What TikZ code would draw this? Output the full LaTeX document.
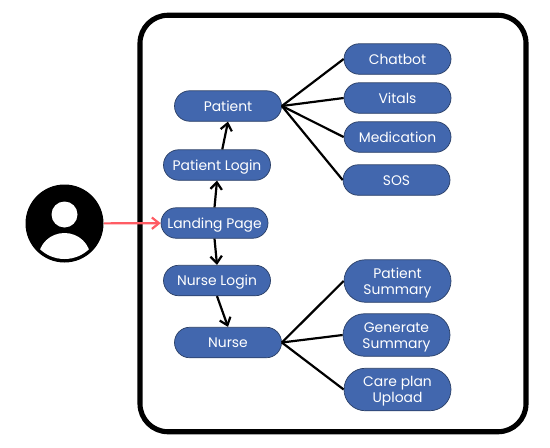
\documentclass[tikz,border=0pt]{standalone}
\usepackage{fontspec}
\setmainfont{Poppins}
\usepackage{xcolor}
\usetikzlibrary{arrows.meta, shapes.misc, shapes.geometric}
\definecolor{boxblue}{HTML}{4267AE}
\definecolor{boxedge}{HTML}{2A3F66}
\definecolor{arrowred}{HTML}{FF5C64}

\begin{document}
\begin{tikzpicture}[
    box/.style={draw=boxedge, line width=0.4pt, rounded rectangle, fill=boxblue,
                minimum width=2.14cm, minimum height=0.61cm, inner sep=0pt,
                text height=7.6pt, text depth=1.8pt,
                align=center, text=white, font=\fontsize{7.9}{9.2}\selectfont},
    tallbox/.style={box, minimum height=0.85cm, text height=16.8pt, text depth=1.8pt},
    arr/.style={-{Straight Barb[length=4pt,width=6.5pt]}, line width=1.25pt},
    link/.style={line width=1.25pt},
  ]
  \useasboundingbox (0,0) rectangle (11,8.94);

  % Outer frame
  \node[draw, line width=2.9pt, rounded corners=0.56cm, minimum width=7.72cm,
        minimum height=8.33cm, inner sep=0pt] (frame) at (6.66,4.47) {};

  % User icon
  \node[circle, fill=black, minimum size=1.56cm, inner sep=0pt] (user) at (1.29,4.47) {};
  \node[circle, fill=white, minimum size=0.52cm, inner sep=0pt] (head) at (1.29,4.65) {};
  \begin{scope}
    \clip (1.29,4.47) circle (0.71);
    \node[ellipse, fill=white, minimum width=1.04cm, minimum height=1cm, inner sep=0pt]
      (body) at (1.29,3.78) {};
  \end{scope}

  % Middle column
  \node[box] (patient) at (4.56,6.82) {Patient};
  \node[box] (plogin)  at (4.34,5.64) {Patient Login};
  \node[box] (landing) at (4.29,4.48) {Landing Page};
  \node[box] (nlogin)  at (4.34,3.33) {Nurse Login};
  \node[box] (nurse)   at (4.56,2.09) {Nurse};

  % Patient side
  \node[box] (chatbot) at (7.95,7.76) {Chatbot};
  \node[box] (vitals)  at (7.95,6.98) {Vitals};
  \node[box] (medic)   at (7.95,6.20) {Medication};
  \node[box] (sos)     at (7.93,5.34) {SOS};

  % Nurse side
  \node[tallbox] (psum) at (7.95,3.32) {Patient\\Summary};
  \node[tallbox] (gsum) at (7.93,2.24) {Generate\\Summary};
  \node[tallbox] (care) at (7.95,1.15) {Care plan\\Upload};

  \draw[arr, arrowred] (user) -- (landing);
  \draw[arr] (landing.north) -- (plogin.south);
  \draw[arr] ([xshift=3pt]plogin.north) -- (patient.south);
  \draw[arr] (landing.south) -- (nlogin.north);
  \draw[arr] (nlogin.south) -- (nurse.north);

  \draw[link] (patient.east) -- (chatbot.west);
  \draw[link] (patient.east) -- (vitals.west);
  \draw[link] (patient.east) -- (medic.west);
  \draw[link] (patient.east) -- (sos.west);
  \draw[link] (nurse.east) -- (psum.west);
  \draw[link] (nurse.east) -- (gsum.west);
  \draw[link] (nurse.east) -- (care.west);
\end{tikzpicture}
\end{document}
